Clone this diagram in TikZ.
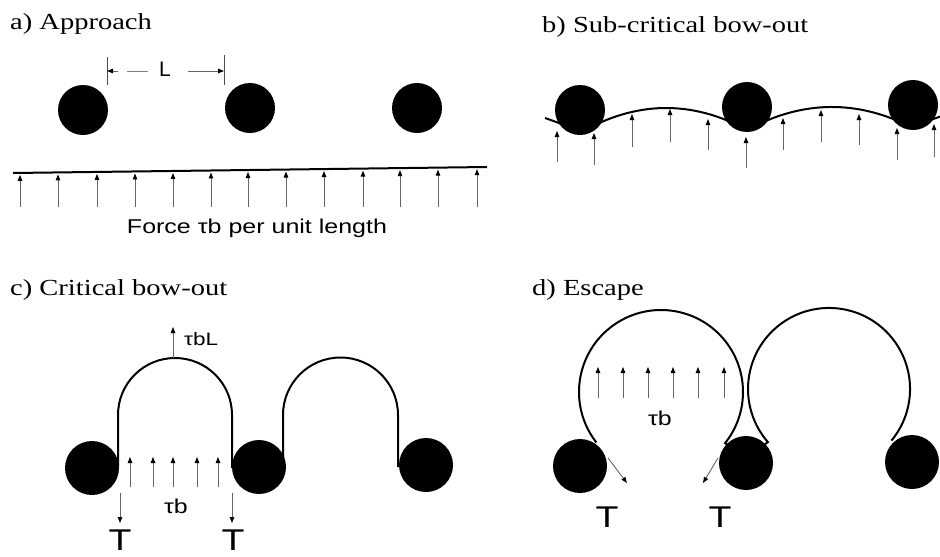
\documentclass[tikz,border=0pt]{standalone}
\usepackage{fontspec}
\setmainfont{Liberation Serif}[FakeStretch=1.24]
\newfontfamily\wsans{Liberation Sans}[FakeStretch=1.25]
\newfontfamily\nsans{Liberation Sans}
\usetikzlibrary{arrows.meta}
\tikzset{
  disk/.style={circle,fill=black,draw=none,inner sep=0pt,minimum size=50pt},
  bigdisk/.style={circle,fill=black,draw=none,inner sep=0pt,minimum size=54pt},
  dline/.style={line width=2pt,black},
  farrow/.style={draw=black!60,line width=0.9pt,-{Triangle[length=6pt,width=4.5pt,color=black]}},
  title/.style={anchor=base west,inner sep=0pt,font=\fontsize{23}{27}\selectfont},
  lab/.style={anchor=base,inner sep=0pt,font=\wsans\fontsize{20}{24}\selectfont},
  biglab/.style={anchor=base,inner sep=0pt,font=\wsans\fontsize{30}{33}\selectfont},
}
\begin{document}
\begin{tikzpicture}[x=1pt,y=-1pt]
\useasboundingbox[fill=white] (0,0) rectangle (940,557);

% ---------- titles
\node[title] (ta) at (10,29) {a) Approach};
\node[title] (tb) at (542,32) {b) Sub-critical bow-out};
\node[title] (tc) at (10,295) {c) Critical bow-out};
\node[title] (td) at (532,295) {d) Escape};

% ---------- panel a
\draw[dline] (13,173) -- (487,167);
\foreach \x in {20,58,97,135,173,211,248,286,324,363,400,438,477}
  \draw[farrow] (\x,207) -- (\x,{175-6*(\x-13)/474});
\node[lab] (fa) at (257,233) {Force τb per unit length};
\node[disk] (a1) at (83,110) {};
\node[disk] (a2) at (250,108) {};
\node[disk] (a3) at (417,108) {};
% dimension L
\coordinate (l1) at (107,71);
\coordinate (l2) at (224,71);
\draw[line width=1pt,black!70] (107,57) -- (107,85) (224,55) -- (224,85);
\draw[farrow] (118,71) -- (l1);
\draw[line width=0.9pt,black!50] (127,71) -- (148,71);
\node[anchor=base,inner sep=0pt,font=\nsans\fontsize{21}{24}\selectfont] (L) at (165,76) {L};
\draw[farrow] (188,71) -- (l2);

% ---------- panel b
\draw[dline] (545,118) .. controls (556.7,122.1) and (568.3,126) .. (580,133)
  .. controls (635.3,100.7) and (691.7,99.7) .. (747,130)
  .. controls (802.3,100) and (857.7,99.3) .. (913,128)
  .. controls (922,123.4) and (931,119.7) .. (940,116.6);
\foreach \x/\t/\h in {557/162/131,594/165/133,632/147/114,670/142/109,708/150/119,746/168/137,783/150/118,821/142/110,859/145/114,897/160/128,934/157/124}
  \draw[farrow] (\x,\t) -- (\x,\h);
\node[disk] (b1) at (580,110) {};
\node[disk] (b2) at (747,107) {};
\node[disk] (b3) at (913,105) {};

% ---------- panel c
\draw[dline] (118,467) -- (118,415) arc[start angle=180,end angle=360,radius=57]
  -- (232,467) -- (283,467) -- (283,415) arc[start angle=180,end angle=360,radius=57.5]
  -- (398,467);
\node[bigdisk] (c1) at (92,468) {};
\node[bigdisk] (c2) at (259,467) {};
\node[bigdisk] (c3) at (426,465) {};
\coordinate (ctop) at (173,358);
\coordinate (ctip) at (173,327);
\draw[farrow] (ctop) -- (ctip);
\node[anchor=base west,inner sep=0pt,font=\wsans\fontsize{18}{22}\selectfont] (tbl) at (184,345) {τbL};
\foreach \x in {130,153,173,197,218}
  \draw[farrow] (\x,487) -- (\x,457);
\node[lab] (ctb) at (176,513) {τb};
\draw[farrow] (120,493) -- (120,523);
\draw[farrow] (232,493) -- (232,523);
\node[biglab] (cT1) at (120,550) {T};
\node[biglab] (cT2) at (233,550) {T};

% ---------- panel d
\draw[dline] (661,392) ++(142:82) arc[start angle=142,end angle=398.6,radius=82]
  -- (746,458) -- (767.9,442.1) arc[start angle=139,end angle=399.6,radius=81];
\node[bigdisk] (d1) at (580,466) {};
\node[bigdisk] (d2) at (746,463) {};
\node[bigdisk] (d3) at (912,462) {};
\foreach \x in {598,623,648,673,698,724}
  \draw[farrow] (\x,398) -- (\x,367);
\node[lab] (dtb) at (660,425) {τb};
\draw[farrow] (608,458) -- (627,483);
\draw[farrow] (718,458) -- (703,483);
\node[biglab] (dT1) at (607,527) {T};
\node[biglab] (dT2) at (720,527) {T};
\end{tikzpicture}
\end{document}
